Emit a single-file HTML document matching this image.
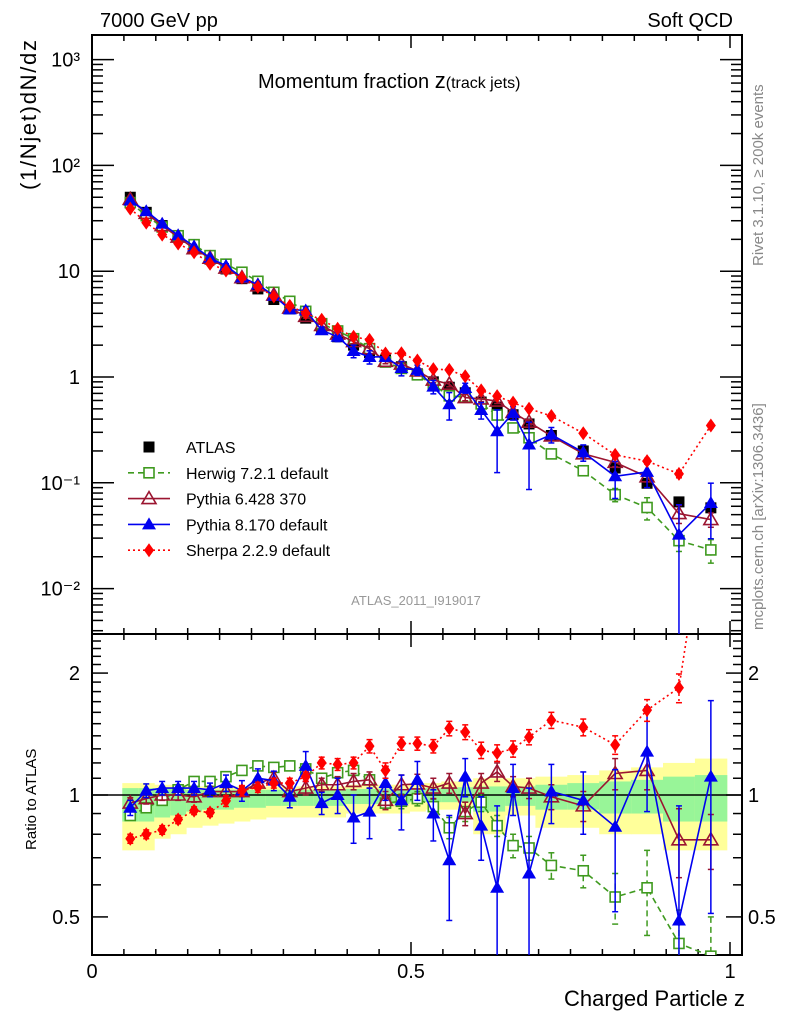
<!DOCTYPE html>
<html><head><meta charset="utf-8"><style>
html,body{margin:0;padding:0;background:#fff;overflow:hidden;width:786px;height:1024px;}
svg{display:block;font-family:"Liberation Sans",sans-serif;}
</style></head><body>
<svg id="chart" width="786" height="1024" viewBox="0 0 786 1024" xmlns="http://www.w3.org/2000/svg">
<g id="bands"></g>
<g id="grid"></g>
<g id="series"></g>
<text x="100" y="27" font-size="20">7000 GeV pp</text>
<text x="733" y="27" font-size="20" text-anchor="end">Soft QCD</text>
<text x="258" y="88" font-size="20">Momentum fraction <tspan font-size="22">z</tspan><tspan font-size="16">(track jets)</tspan></text>
<text transform="translate(36,190) rotate(-90)" font-size="22" textLength="150">(1/Njet)dN/dz</text>
<text transform="translate(36,850) rotate(-90)" font-size="15">Ratio to ATLAS</text>
<text x="745" y="1006" font-size="22" text-anchor="end">Charged Particle z</text>
<text transform="translate(763,266) rotate(-90)" font-size="15" fill="#888">Rivet 3.1.10, ≥ 200k events</text>
<text transform="translate(763,630) rotate(-90)" font-size="15" fill="#888">mcplots.cern.ch [arXiv:1306.3436]</text>
<text x="416" y="605" font-size="13" fill="#999" text-anchor="middle">ATLAS_2011_I919017</text>
<g id="legend"></g>
</svg>
<script>
const zVals=[0.06,0.085,0.11,0.135,0.16,0.185,0.21,0.235,0.26,0.285,0.31,0.335,0.36,0.385,0.41,0.435,0.46,0.485,0.51,0.535,0.56,0.585,0.61,0.635,0.66,0.685,0.72,0.77,0.82,0.87,0.92,0.97];
const binHalf=[0.0125,0.0125,0.0125,0.0125,0.0125,0.0125,0.0125,0.0125,0.0125,0.0125,0.0125,0.0125,0.0125,0.0125,0.0125,0.0125,0.0125,0.0125,0.0125,0.0125,0.0125,0.0125,0.0125,0.0125,0.0125,0.0125,0.025,0.025,0.025,0.025,0.025,0.025];
const atlas=[50,36,27,21,16.5,13,10.5,8.5,6.8,5.4,4.4,3.6,2.9,2.4,2.0,1.7,1.45,1.25,1.07,0.9,0.80,0.71,0.58,0.52,0.44,0.36,0.28,0.20,0.138,0.099,0.066,0.058];
const herwigR=[0.89,0.93,0.97,1.03,1.08,1.08,1.11,1.15,1.18,1.17,1.18,1.16,1.10,1.135,1.15,1.09,0.955,0.965,0.98,0.936,0.83,0.91,0.96,0.84,0.75,0.74,0.67,0.65,0.56,0.59,0.43,0.40];
const py6R=[0.955,0.98,1.0,1.0,0.99,1.02,1.02,1.02,1.07,1.10,1.02,1.04,1.06,1.06,1.08,1.09,0.97,1.06,1.065,1.04,1.07,0.90,1.07,1.14,1.05,1.04,0.99,0.94,1.13,1.15,0.775,0.775];
const py8R=[0.93,1.025,1.04,1.04,1.04,1.03,1.07,1.025,1.10,1.085,0.99,1.18,0.955,1.0,0.88,0.91,1.07,0.97,1.09,0.90,0.69,1.11,0.84,0.59,1.04,0.64,1.02,0.97,0.835,1.28,0.49,1.11];
const sherpaR=[0.78,0.80,0.82,0.87,0.915,0.905,0.967,1.025,1.045,1.07,1.07,1.11,1.20,1.19,1.20,1.32,1.15,1.34,1.34,1.32,1.46,1.43,1.29,1.27,1.30,1.39,1.53,1.47,1.33,1.62,1.84,6.0];
const herwigE=[0.02,0.02,0.02,0.02,0.02,0.02,0.02,0.02,0.02,0.02,0.02,0.02,0.03,0.03,0.03,0.03,0.03,0.04,0.04,0.04,0.05,0.05,0.05,0.05,0.05,0.05,0.05,0.06,0.08,0.14,0.09,0.1];
const py6E=[0.03,0.03,0.03,0.03,0.03,0.03,0.03,0.03,0.04,0.04,0.04,0.04,0.04,0.05,0.05,0.05,0.05,0.06,0.06,0.06,0.06,0.06,0.06,0.06,0.06,0.06,0.07,0.08,0.10,0.12,0.15,0.12];
const py8E=[0.04,0.04,0.04,0.04,0.04,0.04,0.05,0.06,0.06,0.06,0.06,0.10,0.06,0.10,0.12,0.13,0.10,0.15,0.12,0.13,0.20,0.12,0.15,0.35,0.15,0.40,0.17,0.17,0.32,0.37,0.45,0.60];
const sherpaE=[0.02,0.02,0.02,0.02,0.02,0.02,0.03,0.03,0.03,0.03,0.03,0.03,0.04,0.04,0.04,0.05,0.05,0.05,0.05,0.05,0.06,0.06,0.06,0.06,0.06,0.06,0.07,0.07,0.07,0.10,0.15,0.3];
const yellowLo=[0.73,0.73,0.78,0.80,0.83,0.84,0.85,0.86,0.87,0.88,0.88,0.88,0.88,0.88,0.90,0.90,0.90,0.90,0.91,0.92,0.92,0.93,0.80,0.80,0.89,0.89,0.83,0.83,0.80,0.80,0.73,0.73];
const yellowHi=[1.07,1.07,1.06,1.06,1.05,1.05,1.05,1.05,1.05,1.05,1.05,1.05,1.05,1.05,1.06,1.06,1.06,1.06,1.07,1.07,1.08,1.08,1.10,1.10,1.10,1.10,1.11,1.12,1.15,1.17,1.20,1.23];
const greenLo=[0.86,0.86,0.88,0.89,0.91,0.92,0.92,0.93,0.93,0.94,0.94,0.94,0.94,0.94,0.95,0.95,0.95,0.95,0.96,0.96,0.96,0.96,0.91,0.91,0.94,0.94,0.92,0.92,0.90,0.90,0.86,0.86];
const greenHi=[1.04,1.04,1.035,1.035,1.03,1.03,1.03,1.03,1.03,1.03,1.03,1.03,1.03,1.03,1.035,1.035,1.035,1.035,1.04,1.04,1.045,1.045,1.05,1.05,1.05,1.05,1.06,1.07,1.08,1.09,1.11,1.12];
const mainTickLabels=["10³","10²","10","1","10⁻¹","10⁻²"];
const ratioTickVals=[2,1,0.5];
const xTickLabels=["0","0.5","1"];

const NS="http://www.w3.org/2000/svg";
const X0=92,XR=742,XS=638,TOP=35,MID=634,BOT=955;
const xPix=z=>X0+z*XS;
const yMain=v=>377-105.8*Math.log10(v);
const yRat=r=>795-405*Math.log10(r);
function el(tag,attrs,parent){const e=document.createElementNS(NS,tag);for(const k in attrs)e.setAttribute(k,attrs[k]);parent.appendChild(e);return e;}
const gB=document.getElementById('bands'),gG=document.getElementById('grid'),gS=document.getElementById('series'),gL=document.getElementById('legend');

const defs=el('defs',{},document.getElementById('chart'));
const c1=el('clipPath',{id:'clipMain'},defs);el('rect',{x:X0,y:TOP,width:XR-X0,height:MID-TOP},c1);
const c2=el('clipPath',{id:'clipRat'},defs);el('rect',{x:X0,y:MID,width:XR-X0,height:BOT-MID},c2);

zVals.forEach((z,i)=>{
  const x1=xPix(z-binHalf[i]),w=binHalf[i]*2*XS;
  const a=el('rect',{x:x1,y:yRat(yellowHi[i]),width:w+0.5,height:yRat(yellowLo[i])-yRat(yellowHi[i]),fill:'#ffff9a'},gB);
  
  
  const b=el('rect',{x:x1,y:yRat(greenHi[i]),width:w+0.5,height:yRat(greenLo[i])-yRat(greenHi[i]),fill:'#98f598'},gB);
  
  
});
const unity=el('line',{x1:X0,x2:XR,y1:yRat(1),y2:yRat(1),stroke:'#000','stroke-width':1.5},gB);



[[TOP,MID],[MID,BOT]].forEach(([t,b],i)=>{
  const r=el('rect',{x:X0,y:t,width:XR-X0,height:b-t,fill:'none',stroke:'#000','stroke-width':2},gG);
  
  
});
for(let k=0;k<=21;k++){
  const z=k*0.05;if(z>1.01)break;const big=(k%10===0);const len=big?13:6;const x=xPix(z);
  [[TOP,1],[MID,-1],[MID,1],[BOT,-1]].forEach(([y,d])=>el('line',{x1:x,x2:x,y1:y,y2:y+d*len,stroke:'#000','stroke-width':1.5},gG));
}
xTickLabels.forEach((t,i)=>{const tx=el('text',{x:xPix(i*0.5),y:978,'font-size':20,'text-anchor':'middle'},gG);tx.textContent=t;
  
  });
for(let d=-3;d<=3;d++){
  for(let m=1;m<10;m++){
    const v=m*Math.pow(10,d);const y=yMain(v);if(y<TOP||y>MID)continue;const len=m===1?22:11;
    el('line',{x1:X0,x2:X0+len,y1:y,y2:y,stroke:'#000','stroke-width':1.5},gG);
    el('line',{x1:XR,x2:XR-len,y1:y,y2:y,stroke:'#000','stroke-width':1.5},gG);
  }
}
mainTickLabels.forEach((t,i)=>{const tx=el('text',{x:80,y:yMain(Math.pow(10,3-i))+7,'font-size':20,'text-anchor':'end'},gG);tx.textContent=t;
  
  });
for(let v=0.4;v<=2.5001;v=+(v+0.1).toFixed(2)){
  const y=yRat(v);if(y<MID||y>BOT)continue;const big=(Math.abs(v-1)<1e-6||Math.abs(v-2)<1e-6||Math.abs(v-0.5)<1e-6);const len=big?16:9;
  el('line',{x1:X0,x2:X0+len,y1:y,y2:y,stroke:'#000','stroke-width':1.5},gG);
  el('line',{x1:XR,x2:XR-len,y1:y,y2:y,stroke:'#000','stroke-width':1.5},gG);
}
ratioTickVals.forEach(v=>{
  const a=el('text',{x:80,y:yRat(v)+7,'font-size':20,'text-anchor':'end'},gG);a.textContent=String(v);
  
  
  const b=el('text',{x:748,y:yRat(v)+7,'font-size':20},gG);b.textContent=String(v);
  
  
});

function marker(kind,color,x,y,parent,s){
  s=s||1;
  if(kind==='sqf')return el('rect',{x:x-5.5*s,y:y-5.5*s,width:11*s,height:11*s,fill:color},parent);
  if(kind==='sqo')return el('rect',{x:x-5*s,y:y-5*s,width:10*s,height:10*s,fill:'#fff',stroke:color,'stroke-width':1.6},parent);
  if(kind==='tro')return el('polygon',{points:`${x},${y-7*s} ${x-7*s},${y+5*s} ${x+7*s},${y+5*s}`,fill:'#fff','fill-opacity':0,stroke:color,'stroke-width':1.6},parent);
  if(kind==='trf')return el('polygon',{points:`${x},${y-7*s} ${x-7*s},${y+5*s} ${x+7*s},${y+5*s}`,fill:color},parent);
  if(kind==='dia')return el('polygon',{points:`${x},${y-7*s} ${x-5*s},${y} ${x},${y+7*s} ${x+5*s},${y}`,fill:color},parent);
}
const seriesDefs=[
 {name:'herwig',ratio:herwigR,err:herwigE,color:'#3f9a1f',kind:'sqo',dash:'6,4'},
 {name:'pythia6',ratio:py6R,err:py6E,color:'#9b1530',kind:'tro',dash:''},
 {name:'pythia8',ratio:py8R,err:py8E,color:'#0000f0',kind:'trf',dash:''},
 {name:'sherpa',ratio:sherpaR,err:sherpaE,color:'#ff0000',kind:'dia',dash:'2,3'}
];
const gMain=el('g',{'clip-path':'url(#clipMain)'},gS);
const gRat=el('g',{'clip-path':'url(#clipRat)'},gS);
zVals.forEach((z,i)=>{const m=marker('sqf','#000',xPix(z),yMain(atlas[i]),gMain);
  
  });
seriesDefs.forEach(s=>{
  [[gMain,(i)=>yMain(atlas[i]*s.ratio[i]),(i,r)=>yMain(atlas[i]*r)],[gRat,(i)=>yRat(s.ratio[i]),(i,r)=>yRat(r)]].forEach(([g,yf,yv],pi)=>{
    const pts=zVals.map((z,i)=>xPix(z)+','+yf(i)).join(' ');
    const pl=el('polyline',{points:pts,fill:'none',stroke:s.color,'stroke-width':1.6,'stroke-dasharray':s.dash},g);
    
    
    zVals.forEach((z,i)=>{
      const x=xPix(z);const lo=Math.max(s.ratio[i]-s.err[i],0.05),hi=s.ratio[i]+s.err[i];
      const y1=yv(i,hi),y2=yv(i,lo);
      el('line',{x1:x,x2:x,y1:y1,y2:y2,stroke:s.color,'stroke-width':1.5,'stroke-dasharray':s.dash},g);
      el('line',{x1:x-3,x2:x+3,y1:y1,y2:y1,stroke:s.color,'stroke-width':1.5},g);
      el('line',{x1:x-3,x2:x+3,y1:y2,y2:y2,stroke:s.color,'stroke-width':1.5},g);
    });
    zVals.forEach((z,i)=>{const m=marker(s.kind,s.color,xPix(z),yf(i),g);
      
      });
  });
});
const legItems=[['ATLAS','#000','sqf',''],['Herwig 7.2.1 default','#3f9a1f','sqo','6,4'],['Pythia 6.428 370','#9b1530','tro',''],['Pythia 8.170 default','#0000f0','trf',''],['Sherpa 2.2.9 default','#ff0000','dia','2,3']];
legItems.forEach((it,i)=>{
  const y=447+i*25.8;
  const g=el('g',{},gL);
  
  
  if(i>0)el('line',{x1:128,x2:170,y1:y,y2:y,stroke:it[1],'stroke-width':1.6,'stroke-dasharray':it[3]},g);
  marker(it[2],it[1],149,y,g);
  const t=el('text',{x:186,y:y+6,'font-size':16},g);t.textContent=it[0];
});
</script>
</body></html>
